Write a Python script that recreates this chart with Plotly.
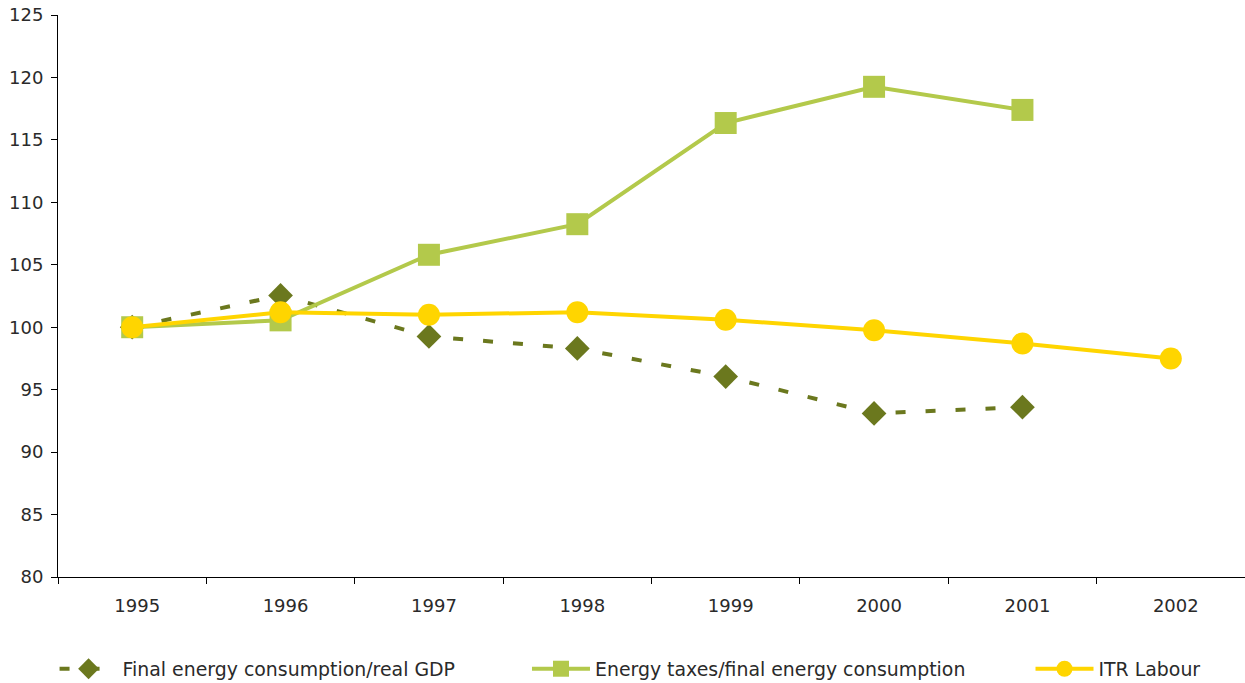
import plotly.graph_objects as go

years = ["1995", "1996", "1997", "1998", "1999", "2000", "2001", "2002"]
final_energy_gdp = [100.0, 102.55, 99.26, 98.3, 96.05, 93.1, 93.6, None]
energy_taxes = [100.0, 100.55, 105.8, 108.25, 116.35, 119.25, 117.4, None]
itr_labour = [100.0, 101.2, 101.0, 101.2, 100.6, 99.75, 98.7, 97.5]

c_dark = "#6b781e"
c_light = "#b3c94b"
c_yellow = "#ffd500"

fig = go.Figure()
fig.add_trace(go.Scatter(
    x=years, y=final_energy_gdp, name="Final energy consumption/real GDP",
    mode="lines+markers", legend="legend",
    line=dict(color=c_dark, width=4, dash="10px,20px"),
    marker=dict(symbol="diamond", size=19, color=c_dark),
))
fig.add_trace(go.Scatter(
    x=years, y=energy_taxes, name="Energy taxes/final energy consumption",
    mode="lines+markers", legend="legend2",
    line=dict(color=c_light, width=4),
    marker=dict(symbol="square", size=22, color=c_light),
))
fig.add_trace(go.Scatter(
    x=years, y=itr_labour, name="ITR Labour",
    mode="lines+markers", legend="legend3",
    line=dict(color=c_yellow, width=4),
    marker=dict(symbol="circle", size=22, color=c_yellow),
))

leg_common = dict(orientation="h", xanchor="left", yref="container",
                  y=0.0484, yanchor="top",
                  itemwidth=58, font=dict(size=18.9), bgcolor="rgba(0,0,0,0)")

fig.update_layout(
    width=1245, height=683,
    margin=dict(l=58, r=0, t=15, b=106),
    paper_bgcolor="white", plot_bgcolor="white",
    font=dict(family="DejaVu Sans", size=18, color="#2a2a2a"),
    showlegend=True,
    legend=dict(x=-0.0029, **leg_common),
    legend2=dict(x=0.3951, **leg_common),
    legend3=dict(x=0.8193, **leg_common),
    xaxis=dict(type="category", range=[-0.5, 7.5], showgrid=False,
               showline=True, linecolor="#000000", linewidth=1,
               ticks="outside", tickson="boundaries", ticklen=6,
               tickcolor="#000000", zeroline=False, ticklabelstandoff=12,
               ticklabelshift=5),
    yaxis=dict(range=[80, 125], dtick=5, showgrid=False,
               showline=True, linecolor="#000000", linewidth=1,
               ticks="outside", ticklen=6, tickcolor="#000000",
               zeroline=False, ticklabelstandoff=4,
               ticklabeloverflow="allow"),
)

fig.write_html("out.html", config={"displayModeBar": False},
               post_script="document.body.style.margin='0';")
